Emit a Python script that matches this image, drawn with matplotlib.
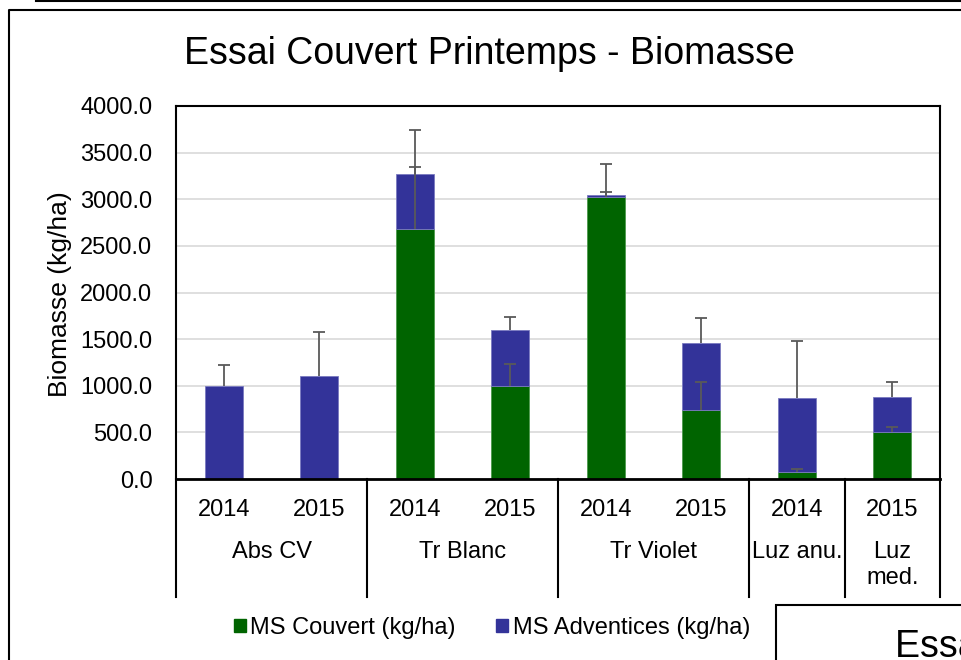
import numpy as np
import matplotlib
matplotlib.use("Agg")
import matplotlib.pyplot as plt
from matplotlib.lines import Line2D
from matplotlib.patches import Rectangle, Patch

plt.rcParams['font.family'] = ['Liberation Sans', 'DejaVu Sans']

# data
groups = ['Abs CV', 'Tr Blanc', 'Tr Violet', 'Luz anu.', 'Luz\nmed.']
group_span = [(0, 1), (2, 3), (4, 5), (6, 6), (7, 7)]
years = ['2014', '2015', '2014', '2015', '2014', '2015', '2014', '2015']
couvert = [0, 0, 2680, 1000, 3020, 735, 80, 500]
adventices = [1000, 1100, 595, 600, 25, 720, 785, 375]
err_couvert = [0, 0, 670, 232, 57, 305, 28, 60]
err_adventices = [225, 480, 472, 136, 338, 272, 620, 165]

W, H = 961, 660
fig = plt.figure(figsize=(W / 100, H / 100), dpi=100)


def fx(px):
    return px / W


def fy(py):
    return 1 - py / H


# plot area in pixels: x 176..940, y 106..479
ax = fig.add_axes([fx(176), fy(479), fx(940) - fx(176), fy(106) - fy(479)])

x = np.arange(len(years))
green = '#006400'
blue = '#333399'
ax.bar(x, couvert, width=0.4, color=green, edgecolor='#4c9a4c', linewidth=0.6, zorder=2)
ax.bar(x, adventices, width=0.4, bottom=couvert, color=blue, edgecolor='#7a7ac0',
       linewidth=0.6, zorder=2)

top = np.array(couvert) + np.array(adventices)
has_c = np.array(couvert) > 0
eb1 = ax.errorbar(x[has_c], np.array(couvert)[has_c],
                  yerr=[np.zeros(has_c.sum()), np.array(err_couvert)[has_c]],
                  fmt='none', ecolor='#595959', elinewidth=1.3, capsize=4.3, capthick=1.3, zorder=3)
eb2 = ax.errorbar(x, top, yerr=[np.zeros(len(x)), err_adventices],
                  fmt='none', ecolor='#595959', elinewidth=1.3, capsize=4.3, capthick=1.3, zorder=3)
# only plus-side error bars, so hide the caps sitting on the bar tops
eb1[1][0].set_visible(False)
eb2[1][0].set_visible(False)

ax.set_xlim(-0.5, 7.5)
ax.set_ylim(0, 4000)
ax.set_yticks(np.arange(0, 4001, 500))
ax.set_yticklabels(['%.1f' % v for v in np.arange(0, 4001, 500)])
ax.tick_params(axis='y', length=0, pad=17, labelsize=17)
ax.set_xticks([])
ax.grid(axis='y', color='#d9d9d9', linewidth=1.2, zorder=0)
ax.set_axisbelow(True)
for s in ['top', 'left', 'right']:
    ax.spines[s].set_linewidth(1.5)
ax.spines['bottom'].set_linewidth(2)

# category axis below the plot
trans = ax.get_xaxis_transform()
low = (479 - 597) / 373
for xs in [-0.5, 1.5, 3.5, 5.5, 6.5, 7.5]:
    ax.plot([xs, xs], [0, low], color='black', lw=1.5, transform=trans, clip_on=False)
for i, yr in enumerate(years):
    ax.text(i, (479 - 510) / 373, yr, transform=trans, ha='center', va='center', fontsize=17)
for g, (a, b) in zip(groups, group_span):
    ax.text((a + b) / 2, (479 - 541) / 373, g, transform=trans, ha='center', va='top',
            fontsize=17, linespacing=1.25)

fig.text(fx(60), fy(294), 'Biomasse (kg/ha)', rotation=90, ha='center', va='center', fontsize=19)
fig.text(fx(489), fy(54), 'Essai Couvert Printemps - Biomasse', ha='center', va='center', fontsize=27)

handles = [Patch(color=green), Patch(color=blue)]
fig.legend(handles, ['MS Couvert (kg/ha)', 'MS Adventices (kg/ha)'], loc='center',
           bbox_to_anchor=(fx(492), fy(628)), ncol=2, frameon=False, fontsize=17,
           handlelength=0.5, handleheight=0.5, handletextpad=0.2, columnspacing=1.7)

# surrounding frames from the screenshot
fig.add_artist(Line2D([fx(36), fx(961)], [fy(1), fy(1)], color='black', lw=1.5, transform=fig.transFigure))
fig.add_artist(Line2D([fx(9), fx(9), fx(961)], [fy(660), fy(10), fy(10)], color='black', lw=1.5,
                      transform=fig.transFigure))
fig.add_artist(Rectangle((fx(776), fy(700)), fx(300), fy(605) - fy(700), facecolor='white',
                         edgecolor='black', lw=1.5, transform=fig.transFigure))
# title of the neighbouring chart, cut by the screenshot edge as in the reference
fig.text(fx(895), fy(657), 'Essai Couvert Printemps - Biomasse', ha='left', va='baseline', fontsize=27)

fig.savefig('out.png', dpi=100)
